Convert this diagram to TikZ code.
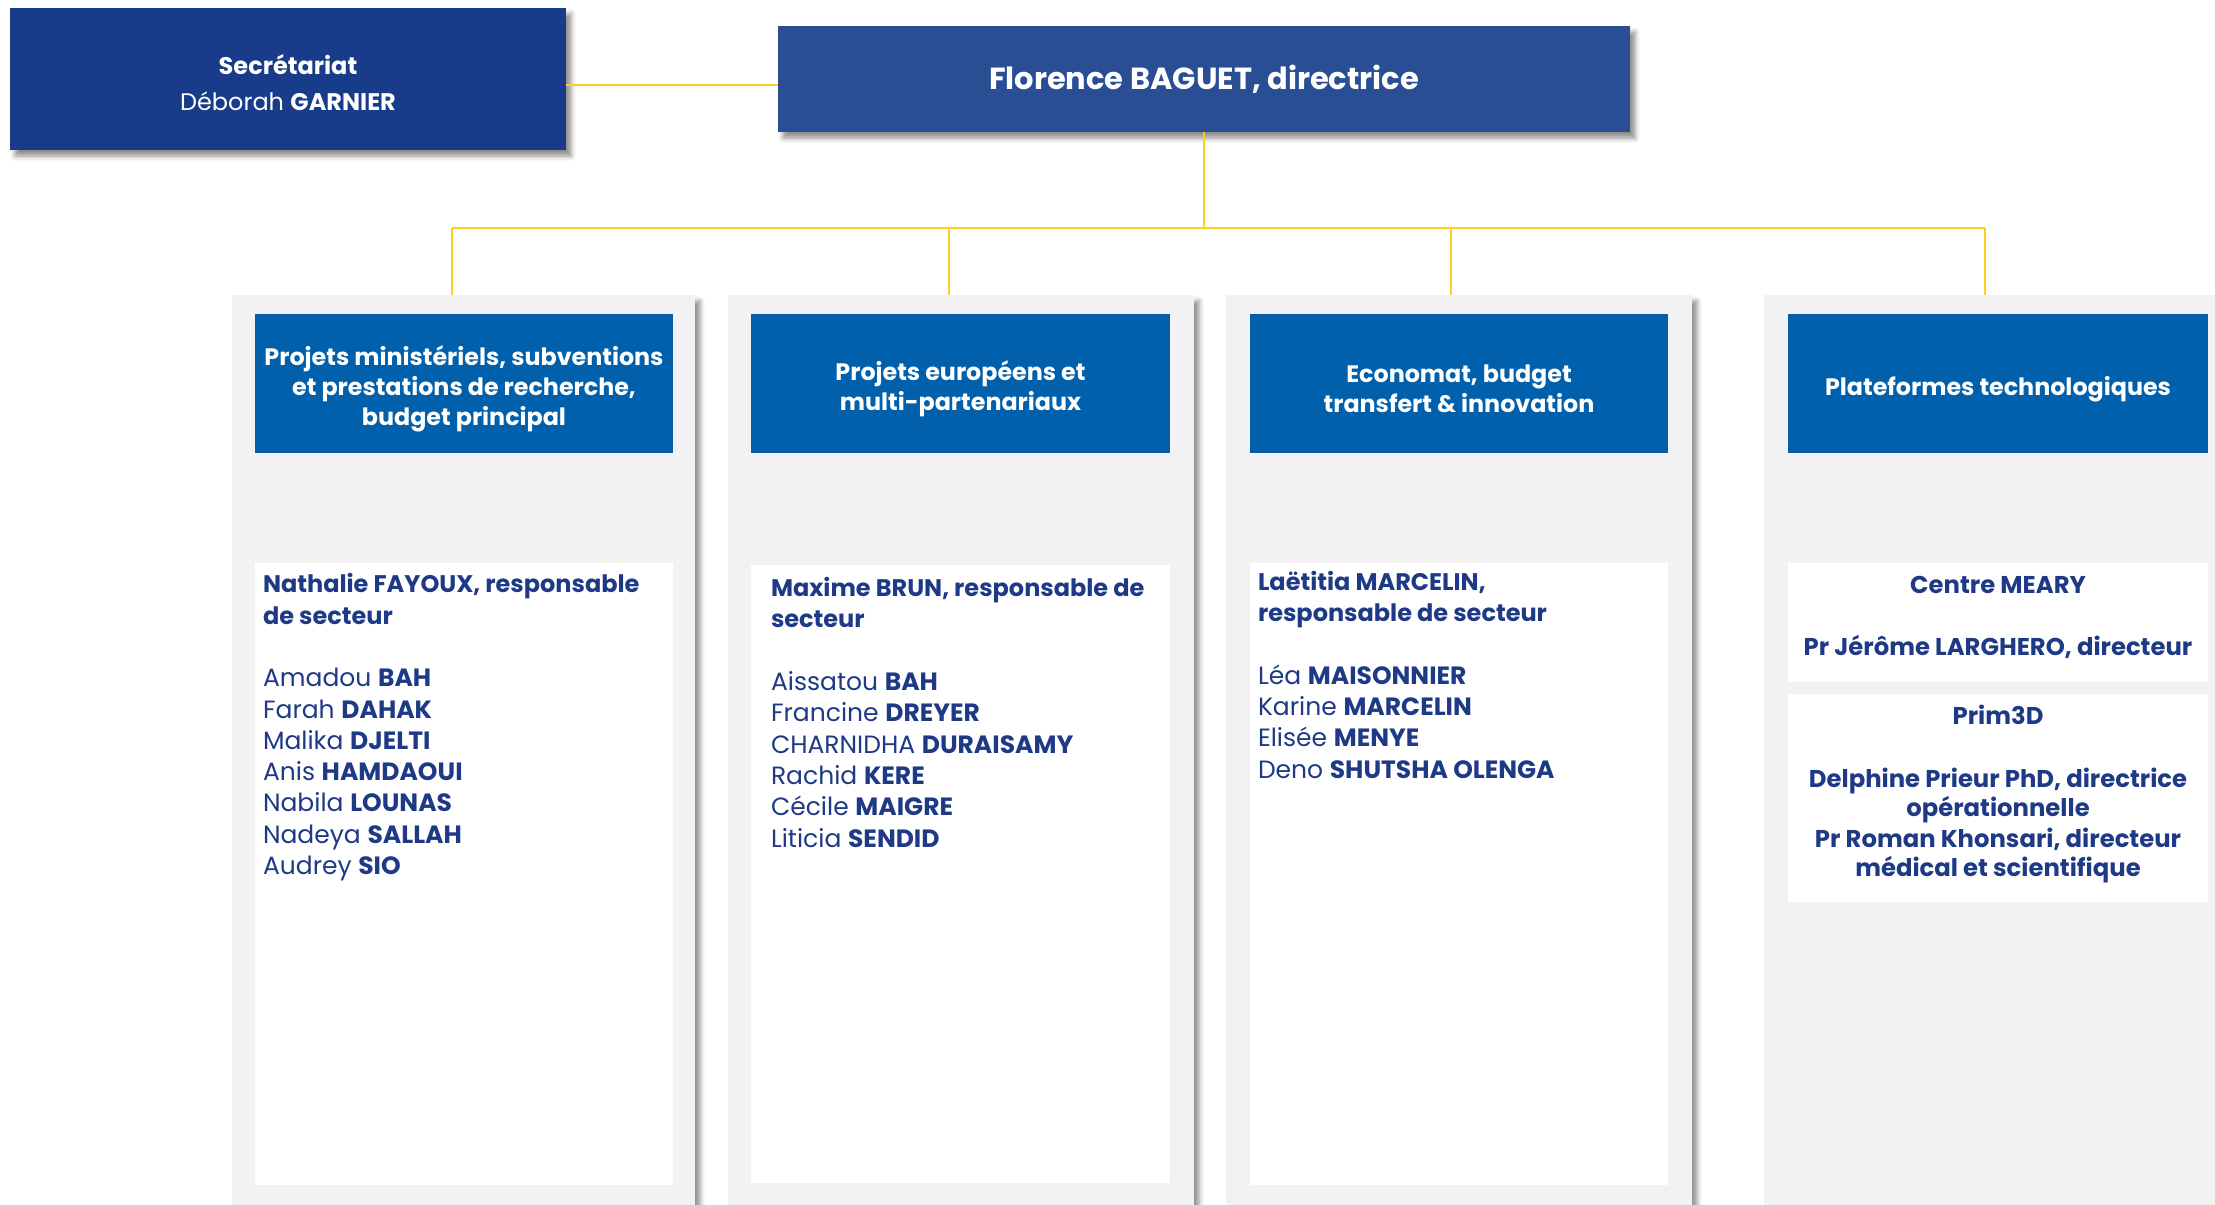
\documentclass[tikz,border=0pt]{standalone}
\usepackage{fontspec}
\setmainfont{Poppins}
\usepackage{tikz}
\usetikzlibrary{shadows.blur}
\definecolor{navy}{HTML}{183C89}
\definecolor{dirblue}{HTML}{2A4E94}
\definecolor{headblue}{HTML}{0060AB}
\definecolor{panelgray}{HTML}{F3F1F1}
\definecolor{inkblue}{HTML}{1E3A87}
\definecolor{gold}{HTML}{FAD21E}
\newcommand{\leadline}[1]{{\bfseries\fontsize{24}{31.3}\selectfont #1}}
\tikzset{
  every node/.style={inner sep=0pt, outer sep=0pt},
}

\begin{document}
\begin{tikzpicture}[
    x=1pt, y=-1pt,
    softshadow/.style={blur shadow={shadow xshift=5pt, shadow yshift=-6pt,
        shadow blur radius=5pt, shadow opacity=45}},
    topbox/.style={fill=#1, softshadow},
    toptext/.style={text=white, align=center},
    panel/.style={fill=panelgray, anchor=north west, minimum height=935pt,
        softshadow},
    head/.style={fill=headblue, anchor=north west, minimum height=139pt},
    headtext/.style={text=white, align=center,
        font=\bfseries\fontsize{23.8}{29.7}\selectfont},
    card/.style={fill=white, anchor=north west},
    staff/.style={text=inkblue, align=left, anchor=base west,
        font=\fontsize{25}{31.3}\selectfont},
    link/.style={draw=gold, line width=1.8pt},
    ]
    \useasboundingbox (0,0) rectangle (2215,1204);

    \node[topbox=navy, minimum width=556pt, minimum height=142pt] (secr) at (288,79) {};
    \node[toptext, font=\fontsize{24}{36}\selectfont] (secrtext)
      at ([yshift=-4pt]secr.center)
      {\textbf{Secrétariat}\\Déborah \textbf{GARNIER}};
    \node[topbox=dirblue, minimum width=852pt, minimum height=106pt] (dir) at (1204,79) {};
    \node[toptext, font=\bfseries\fontsize{30.5}{36}\selectfont] (dirtext)
      at (dir.center) {Florence BAGUET, directrice};

    \node[panel, minimum width=463pt] (col1) at (232,295) {};
    \node[panel, minimum width=466pt] (col2) at (728,295) {};
    \node[panel, minimum width=466pt] (col3) at (1226,295) {};
    \node[panel, minimum width=470pt] (col4) at (1764,295) {};

    \node[head, minimum width=418pt] (head1) at (255,314) {};
    \node[head, minimum width=419pt] (head2) at (751,314) {};
    \node[head, minimum width=418pt] (head3) at (1250,314) {};
    \node[head, minimum width=420pt] (head4) at (1788,314) {};
    \node[headtext] (title1) at ([yshift=-5.5pt]head1.center)
      {Projets ministériels, subventions\\et prestations de recherche,\\budget principal};
    \node[headtext] (title2) at ([yshift=-5.5pt]head2.center)
      {Projets européens et\\multi-partenariaux};
    \node[headtext] (title3) at ([yshift=-5.5pt]head3.center)
      {Economat, budget\\transfert \& innovation};
    \node[headtext] (title4) at ([yshift=-5.5pt]head4.center)
      {Plateformes technologiques};

    \node[card, minimum width=418pt, minimum height=622pt] (card1) at (255,563) {};
    \node[card, minimum width=419pt, minimum height=618pt] (card2) at (751,565) {};
    \node[card, minimum width=418pt, minimum height=622pt] (card3) at (1250,563) {};
    \node[card, minimum width=420pt, minimum height=119pt] (card4a) at (1788,563) {};
    \node[card, minimum width=420pt, minimum height=208pt] (card4b) at (1788,694) {};

    \node[staff] (team1) at ([shift={(8,311.5)}]card1.north west)
      {\leadline{Nathalie FAYOUX, responsable}\\\leadline{de secteur}\\[31.3pt]
       Amadou \textbf{BAH}\\Farah \textbf{DAHAK}\\Malika \textbf{DJELTI}\\
       Anis \textbf{HAMDAOUI}\\Nabila \textbf{LOUNAS}\\Nadeya \textbf{SALLAH}\\
       Audrey \textbf{SIO}};
    \node[staff] (team2) at ([shift={(20,282)}]card2.north west)
      {\leadline{Maxime BRUN, responsable de}\\\leadline{secteur}\\[31.3pt]
       Aissatou \textbf{BAH}\\Francine \textbf{DREYER}\\CHARNIDHA \textbf{DURAISAMY}\\
       Rachid \textbf{KERE}\\Cécile \textbf{MAIGRE}\\Liticia \textbf{SENDID}};
    \node[staff] (team3) at ([shift={(8,215)}]card3.north west)
      {\leadline{Laëtitia MARCELIN,}\\\leadline{responsable de secteur}\\[31.3pt]
       Léa \textbf{MAISONNIER}\\Karine \textbf{MARCELIN}\\Elisée \textbf{MENYE}\\
       Deno \textbf{SHUTSHA OLENGA}};
    \node[staff, anchor=base, align=center, font=\bfseries\fontsize{24.3}{29}\selectfont]
      (meary) at ([shift={(0,92.5)}]card4a.north)
      {Centre MEARY\\[33pt]Pr Jérôme LARGHERO, directeur};
    \node[staff, anchor=base, align=center, font=\bfseries\fontsize{24.3}{29}\selectfont]
      (prim) at ([shift={(0,182.7)}]card4b.north)
      {Prim3D\\[34pt]Delphine Prieur PhD, directrice\\opérationnelle\\[2pt]
       Pr Roman Khonsari, directeur\\médical et scientifique};

    \draw[link, line width=2.5pt] ([yshift=-6pt]secr.east) -- ([yshift=-6pt]dir.west);
    \coordinate (bus1) at (452,228);
    \coordinate (bus2) at (949,228);
    \coordinate (bus3) at (1451,228);
    \coordinate (bus4) at (1985,228);
    \draw[link] (dir.south) -- (dir.south |- bus1);
    \draw[link, line width=2.5pt] (bus1) -- (bus4);
    \draw[link] (bus1) -- (bus1 |- col1.north);
    \draw[link] (bus2) -- (bus2 |- col2.north);
    \draw[link] (bus3) -- (bus3 |- col3.north);
    \draw[link] (bus4) -- (bus4 |- col4.north);
  \end{tikzpicture}
\end{document}
